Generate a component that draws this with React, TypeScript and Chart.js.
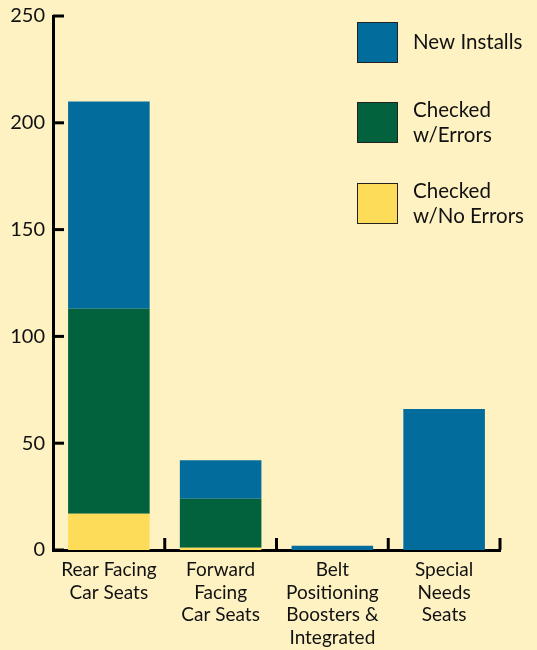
import React, { useEffect, useRef } from 'react';
import { Chart, registerables } from 'chart.js';
Chart.register(...registerables);

const categories: string[][] = [
  ['Rear Facing', 'Car Seats'],
  ['Forward', 'Facing', 'Car Seats'],
  ['Belt', 'Positioning', 'Boosters &', 'Integrated'],
  ['Special', 'Needs', 'Seats'],
];
const checkedNoErrors = [17, 1, 0, 0];
const checkedWithErrors = [96, 23, 0, 0];
const newInstalls = [97, 18, 2, 66];
const yTickValues = [0, 50, 100, 150, 200, 250];

const legendItems: { lines: string[]; color: string }[] = [
  { lines: ['New Installs'], color: '#026C9C' },
  { lines: ['Checked', 'w/Errors'], color: '#02623D' },
  { lines: ['Checked', 'w/No Errors'], color: '#FDDC5A' },
];

const BG = '#FEF2C3';
const FONT = 'Lato, "Open Sans", sans-serif';

export default function App() {
  const ref = useRef<HTMLCanvasElement>(null);
  useEffect(() => {
    document.body.style.margin = '0';
    document.body.style.background = BG;
    const decor = {
      id: 'decor',
      beforeDraw(chart: any) {
        const { ctx } = chart;
        ctx.save();
        ctx.fillStyle = BG;
        ctx.fillRect(0, 0, chart.width, chart.height);
        ctx.restore();
      },
      afterDraw(chart: any) {
        const { ctx, chartArea } = chart;
        const y = chart.scales.y;
        ctx.save();
        ctx.strokeStyle = '#000';
        ctx.lineWidth = 3;
        ctx.lineCap = 'butt';
        yTickValues.forEach((v) => {
          const py = y.getPixelForValue(v);
          ctx.beginPath();
          ctx.moveTo(chartArea.left, py);
          ctx.lineTo(chartArea.left + 11, py);
          ctx.stroke();
        });
        const n = categories.length;
        const w = (chartArea.right - chartArea.left) / n;
        for (let i = 1; i <= n; i++) {
          const px = chartArea.left + i * w;
          ctx.beginPath();
          ctx.moveTo(px, chartArea.bottom);
          ctx.lineTo(px, chartArea.bottom - 12);
          ctx.stroke();
        }
        // legend
        const boxX = 357;
        const boxTops = [22, 102, 183];
        const size = 41;
        ctx.font = `20.5px ${FONT}`;
        ctx.textBaseline = 'middle';
        ctx.textAlign = 'left';
        legendItems.forEach((it, i) => {
          const top = boxTops[i];
          ctx.fillStyle = it.color;
          ctx.fillRect(boxX, top, size, size);
          ctx.lineWidth = 1;
          ctx.strokeStyle = '#222';
          ctx.strokeRect(boxX + 0.5, top + 0.5, size - 1, size - 1);
          ctx.fillStyle = '#111';
          const lh = 25;
          const startY = top + size / 2 - ((it.lines.length - 1) * lh) / 2;
          it.lines.forEach((l, j) => ctx.fillText(l, 413, startY + j * lh));
        });
        ctx.restore();
      },
    };
    const chart = new Chart(ref.current!, {
      type: 'bar',
      data: {
        labels: categories,
        datasets: [
          { label: 'Checked w/No Errors', data: checkedNoErrors, backgroundColor: legendItems[2].color },
          { label: 'Checked w/Errors', data: checkedWithErrors, backgroundColor: legendItems[1].color },
          { label: 'New Installs', data: newInstalls, backgroundColor: legendItems[0].color },
        ],
      },
      options: {
        animation: false,
        responsive: false,
        layout: { padding: { top: 16, right: 37, left: 0, bottom: 0 } },
        plugins: { legend: { display: false }, tooltip: { enabled: false } },
        datasets: { bar: { categoryPercentage: 1, barPercentage: 0.73 } } as any,
        scales: {
          x: {
            stacked: true,
            grid: { display: false, drawTicks: false },
            border: { display: true, color: '#000', width: 3 },
            ticks: { color: '#111', font: { family: FONT, size: 19, lineHeight: 1.18 }, padding: 9, maxRotation: 0, autoSkip: false },
            afterFit: (s: any) => { s.height = 100; s.paddingLeft = 0; s.paddingRight = 0; },
          },
          y: {
            stacked: true,
            min: 0,
            max: 250,
            grid: { display: false, drawTicks: false },
            border: { display: true, color: '#000', width: 3 },
            ticks: { stepSize: 50, color: '#111', font: { family: FONT, size: 20 }, padding: 8 },
            afterFit: (s: any) => { s.width = 53; s.paddingTop = 0; s.paddingBottom = 0; },
          },
        },
      },
      plugins: [decor],
    });
    return () => chart.destroy();
  }, []);
  return (
    <div style={{ width: 537, height: 650, background: BG }}>
      <canvas ref={ref} width={537} height={650} style={{ display: 'block' }} />
    </div>
  );
}
